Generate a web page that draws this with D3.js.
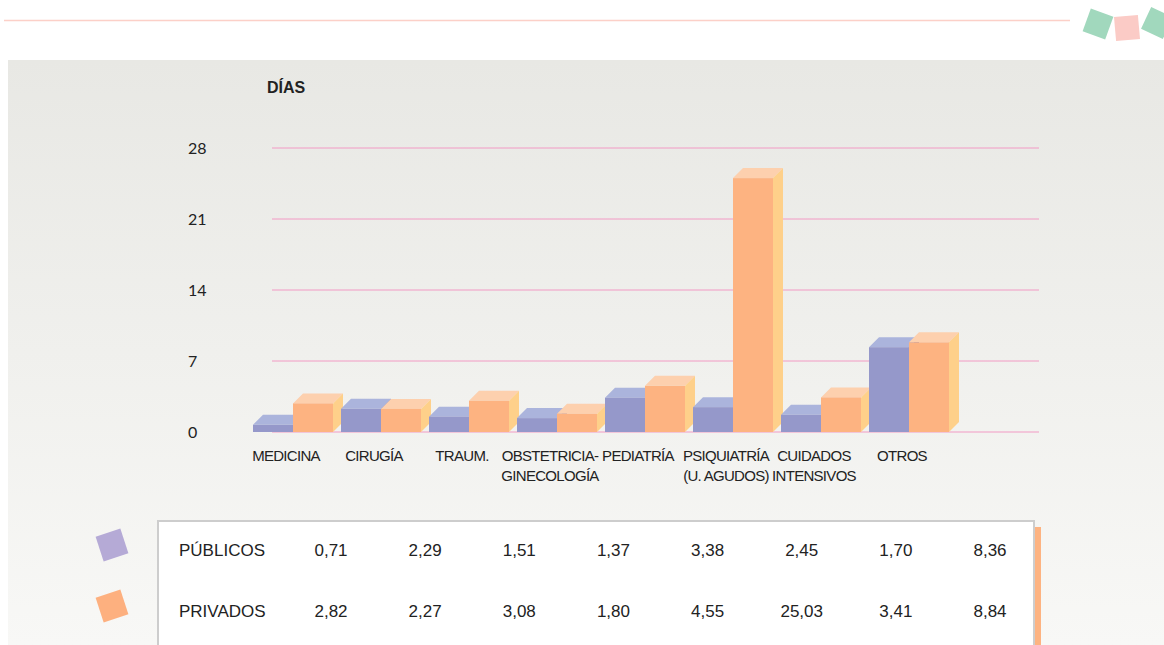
<!DOCTYPE html>
<html>
<head>
<meta charset="utf-8">
<script src="https://cdn.jsdelivr.net/npm/d3@7"></script>
<style>
  body { margin: 0; background: #fff; }
  svg { display: block; }
</style>
</head>
<body>
<svg id="chart" width="1164" height="645"></svg>
<script>
// DATA
const categories = ["MEDICINA", "CIRUGÍA", "TRAUM.", "OBSTETRICIA-\nGINECOLOGÍA", "PEDIATRÍA",
    "PSIQUIATRÍA\n(U. AGUDOS)", "CUIDADOS\nINTENSIVOS", "OTROS"];
const publicos = [0.71, 2.29, 1.51, 1.37, 3.38, 2.45, 1.70, 8.36];
const privados = [2.82, 2.27, 3.08, 1.80, 4.55, 25.03, 3.41, 8.84];
const seriesNames = ["PÚBLICOS", "PRIVADOS"];
const yTicks = [0, 7, 14, 21, 28];

// SETUP
const svg = d3.select("#chart");
const depth = 10;
const colors = {
    pub: {front: "#9598ca", top: "#abb4dc", side: "#8a8dc0"},
    priv: {front: "#fdb381", top: "#fdd0ae", side: "#fed08a"}
};
const legendColors = ["#b5aad6", "#fdb07f"];

const fmt = d3.formatLocale({decimal: ",", thousands: ".", grouping: [3], currency: ["", ""]}).format(".2f");

const x0 = d3.scaleBand().domain(categories).range([253, 957]);
const x1 = d3.scaleBand().domain(["pub", "priv"]).range([0, 80]);
const y = d3.scaleLinear().domain([0, 28]).range([432, 148]);

// background
const defs = svg.append("defs");
const grad = defs.append("linearGradient").attr("id", "bg").attr("x1", 0).attr("y1", 0).attr("x2", 0).attr("y2", 1);
grad.append("stop").attr("offset", "0%").attr("stop-color", "#e8e8e4");
grad.append("stop").attr("offset", "100%").attr("stop-color", "#f8f8f6");

svg.append("rect").attr("x", 8).attr("y", 60).attr("width", 1156).attr("height", 585).attr("fill", "url(#bg)");

// top rule and decorations
svg.append("line").attr("x1", 4).attr("x2", 1070).attr("y1", 20.5).attr("y2", 20.5)
    .attr("stroke", "#fcd0c8").attr("stroke-width", 1.5);

const deco = [
    {cx: 1098, cy: 24, r: 20, c: "#a1d8bd"},
    {cx: 1127, cy: 28, r: -5, c: "#fbcbc6"},
    {cx: 1157, cy: 23, r: 25, c: "#a1d8bd"}
];
svg.selectAll(".deco").data(deco).enter().append("rect")
    .attr("class", "deco")
    .attr("x", -12).attr("y", -12).attr("width", 24).attr("height", 24)
    .attr("fill", d => d.c)
    .attr("transform", d => "translate(" + d.cx + "," + d.cy + ") rotate(" + d.r + ")");

// axis title
svg.append("text").attr("x", 267).attr("y", 93)
    .attr("font-family", "Liberation Sans, Arial, sans-serif").attr("font-weight", "bold")
    .attr("font-size", 16).attr("fill", "#222").text("DÍAS");

// gridlines + tick labels
svg.selectAll(".grid").data(yTicks).enter().append("line")
    .attr("class", "grid")
    .attr("x1", 272).attr("x2", 1039)
    .attr("y1", d => y(d)).attr("y2", d => y(d))
    .attr("stroke", "#f29ac4").attr("stroke-width", 1);

svg.selectAll(".ytick").data(yTicks).enter().append("text")
    .attr("class", "ytick")
    .attr("x", 188).attr("y", d => y(d) + 6)
    .attr("font-family", "Lato, sans-serif").attr("font-size", 16).attr("fill", "#222")
    .text(d => d);

// BARS
function drawBar(g, bx, val, w, c) {
    const top = y(val), base = y(0);
    g.append("path")
        .attr("d", `M${bx},${top} L${bx + depth},${top - depth} L${bx + w + depth},${top - depth} L${bx + w},${top} Z`)
        .attr("fill", c.top);
    g.append("path")
        .attr("d", `M${bx + w},${top} L${bx + w + depth},${top - depth} L${bx + w + depth},${base - depth} L${bx + w},${base} Z`)
        .attr("fill", c.side);
    g.append("rect")
        .attr("x", bx).attr("y", top).attr("width", w).attr("height", base - top)
        .attr("fill", c.front);
}

const bars = svg.append("g");
categories.forEach((cat, i) => {
    const g = bars.append("g");
    drawBar(g, x0(cat) + x1("pub"), publicos[i], x1.bandwidth(), colors.pub);
    drawBar(g, x0(cat) + x1("priv"), privados[i], x1.bandwidth(), colors.priv);
});

// category labels
const labels = svg.selectAll(".xlab").data(categories).enter().append("text")
    .attr("class", "xlab")
    .attr("y", 461)
    .attr("text-anchor", "middle")
    .attr("font-family", "Liberation Sans, Arial, sans-serif")
    .attr("font-size", 15).attr("letter-spacing", "-0.7")
    .attr("fill", "#222");
labels.each(function (d) {
    const t = d3.select(this);
    d.split("\n").forEach((line, k) => {
        t.append("tspan").attr("x", x0(d) + 33).attr("dy", k === 0 ? 0 : 20).text(line);
    });
});

// TABLE
svg.append("rect").attr("x", 1035).attr("y", 527).attr("width", 6).attr("height", 118).attr("fill", "#fdb381");
svg.append("rect").attr("x", 158).attr("y", 521).attr("width", 876).attr("height", 130)
    .attr("fill", "#fff").attr("stroke", "#cdcdcd").attr("stroke-width", 2);

const colX = d3.scalePoint().domain(categories).range([331, 990]);
const rowY = d3.scalePoint().domain(seriesNames).range([556, 617]);
const rows = [publicos, privados];

seriesNames.forEach((name, r) => {
    svg.append("rect")
        .attr("x", -13).attr("y", -13).attr("width", 26).attr("height", 26)
        .attr("fill", legendColors[r])
        .attr("transform", "translate(112," + (rowY(name) - 11) + ") rotate(-18)");
    svg.append("text").attr("x", 179).attr("y", rowY(name))
        .attr("font-family", "Liberation Sans, Arial, sans-serif").attr("font-size", 17)
        .attr("fill", "#222").text(name);
    svg.selectAll(".cell" + r).data(rows[r]).enter().append("text")
        .attr("class", "cell" + r)
        .attr("x", (d, i) => colX(categories[i]))
        .attr("y", rowY(name))
        .attr("text-anchor", "middle")
        .attr("font-family", "Liberation Sans, Arial, sans-serif").attr("font-size", 17)
        .attr("fill", "#222")
        .text(d => fmt(d));
});
</script>
</body>
</html>
